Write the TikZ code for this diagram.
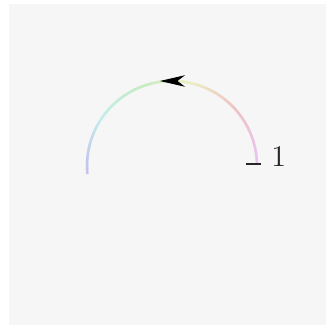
\documentclass[tikz,border=0pt]{standalone}
\usepackage{xcolor}
\usepackage{tikz}
\usetikzlibrary{arrows.meta,calc,decorations.markings}

\definecolor{bggray}{HTML}{F6F6F6}

\begin{document}
\begin{tikzpicture}[
  x=0.4pt, y=0.4pt,
  band/.style={line width=1pt},
  tick/.style={line width=0.6pt, black!85},
  lbl/.style={font=\fontsize{12}{14}\selectfont, text=black!85, inner sep=0pt},
  midarrow/.style={decorate, decoration={markings,
    mark=at position 0.481 with {\arrow[xshift=4.8pt]{Stealth[length=10pt,width=4.6pt,inset=3pt]}}}},
]
  % --- frame and background --------------------------------------------
  \useasboundingbox (0,0) rectangle (327,326);
  \fill[white] (0,0) rectangle (327,326);
  \fill[bggray] (9,1) rectangle (326,322);

  % --- the coloured half circle -----------------------------------------
  \coordinate (o) at (172,160);
  \coordinate (s) at ($(o)+(2:85)$);
  \coordinate (e) at ($(o)+(185:85)$);
  \foreach \a in {2,...,184}{
    \pgfmathsetmacro{\h}{mod(290+(\a-2)*1.74,360)}
    \definecolor{arcc}{Hsb}{\h,0.18,0.93}
    \draw[band, arcc] ($(o)+(\a:85)$) arc[start angle=\a, end angle=\a+1.4, radius=85];
  }
  \path[midarrow] (s) arc[start angle=2, end angle=185, radius=85];

  % --- start mark and its label -----------------------------------------
  \draw[tick] ($(s)+(-11,-1)$) -- ($(s)+(4,-1)$);
  \node[lbl, anchor=west] (one) at ($(s)+(14,7)$) {1};
\end{tikzpicture}
\end{document}
